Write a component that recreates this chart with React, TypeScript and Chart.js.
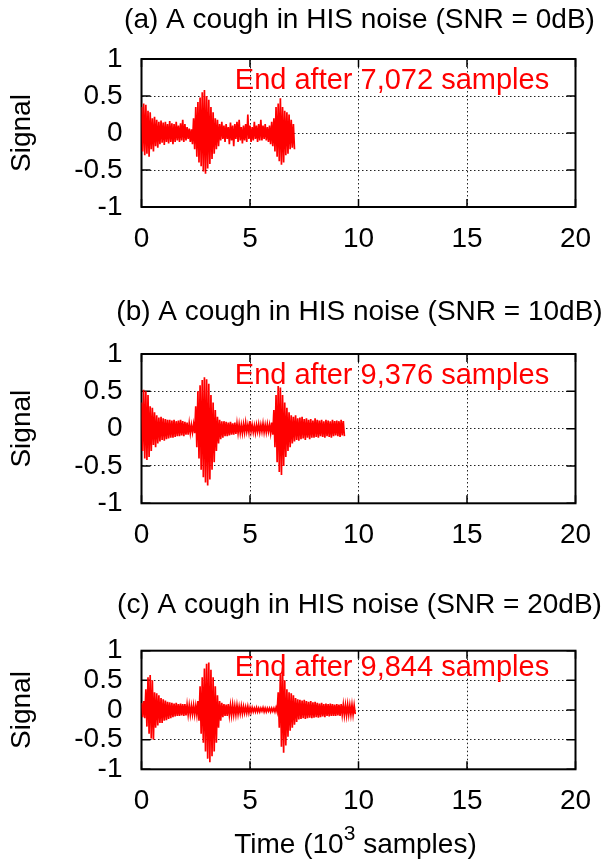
import React, { useEffect, useRef } from "react";
import { Chart, registerables } from "chart.js";

Chart.register(...registerables);

const FONT = '"Liberation Sans", Arial, Helvetica, sans-serif';

// ---------------- data ----------------
const panelTitles = [
  "(a) A cough in HIS noise (SNR = 0dB)",
  "(b) A cough in HIS noise (SNR = 10dB)",
  "(c) A cough in HIS noise (SNR = 20dB)",
];
const endSamples = [7072, 9376, 9844];
const xTickValues = [0, 5, 10, 15, 20];
const yTickValues = [-1, -0.5, 0, 0.5, 1];
const yAxisLabel = "Signal";
const xAxisLabelParts = ["Time (10", "3", " samples)"];
const envelopeStep = 0.1; // 10^3 samples between envelope readings

// (a) SNR = 0dB : upper / lower envelope read every 100 samples
const upperA = [
  0.35, 0.40, 0.38, 0.30, 0.28, 0.20, 0.22, 0.18, 0.15, 0.17,
  0.14, 0.15, 0.12, 0.16, 0.13, 0.12, 0.15, 0.10, 0.13, 0.18,
  0.12, 0.08, 0.06, 0.05, 0.20, 0.35, 0.42, 0.48, 0.55, 0.58,
  0.50, 0.45, 0.35, 0.28, 0.20, 0.18, 0.12, 0.15, 0.10, 0.12,
  0.08, 0.14, 0.10, 0.12, 0.15, 0.18, 0.08, 0.10, 0.12, 0.25,
  0.10, 0.08, 0.15, 0.10, 0.12, 0.18, 0.10, 0.12, 0.08, 0.10,
  0.15, 0.20, 0.35, 0.40, 0.47, 0.35, 0.30, 0.28, 0.25, 0.18,
  0.12,
];
const lowerA = [
  -0.25, -0.30, -0.28, -0.32, -0.22, -0.25, -0.18, -0.20, -0.15, -0.13,
  -0.16, -0.12, -0.14, -0.12, -0.15, -0.12, -0.10, -0.12, -0.10, -0.12,
  -0.10, -0.08, -0.12, -0.15, -0.22, -0.32, -0.40, -0.45, -0.52, -0.55,
  -0.48, -0.42, -0.35, -0.28, -0.22, -0.18, -0.10, -0.08, -0.12, -0.08,
  -0.15, -0.10, -0.18, -0.08, -0.12, -0.10, -0.14, -0.10, -0.12, -0.08,
  -0.12, -0.10, -0.08, -0.12, -0.10, -0.10, -0.08, -0.10, -0.12, -0.15,
  -0.18, -0.25, -0.32, -0.38, -0.43, -0.40, -0.30, -0.28, -0.22, -0.20,
  -0.22,
];

// (b) SNR = 10dB
const upperB = [
  0.35, 0.52, 0.50, 0.45, 0.30, 0.28, 0.22, 0.18, 0.15, 0.16,
  0.14, 0.13, 0.12, 0.12, 0.11, 0.12, 0.10, 0.11, 0.12, 0.10,
  0.09, 0.08, 0.07, 0.05, 0.06, 0.30, 0.50, 0.58, 0.65, 0.69,
  0.66, 0.60, 0.45, 0.35, 0.25, 0.16, 0.12, 0.10, 0.10, 0.09,
  0.08, 0.09, 0.07, 0.08, 0.07, 0.06, 0.05, 0.06, 0.08, 0.05,
  0.10, 0.05, 0.04, 0.05, 0.06, 0.05, 0.07, 0.05, 0.06, 0.05,
  0.08, 0.25, 0.45, 0.57, 0.55, 0.45, 0.35, 0.28, 0.22, 0.18,
  0.16, 0.18, 0.14, 0.15, 0.16, 0.13, 0.14, 0.12, 0.13, 0.11,
  0.14, 0.12, 0.11, 0.12, 0.10, 0.12, 0.11, 0.10, 0.12, 0.10,
  0.11, 0.10, 0.12, 0.10,
];
const lowerB = [
  -0.30, -0.40, -0.42, -0.38, -0.30, -0.22, -0.25, -0.20, -0.17, -0.15,
  -0.16, -0.14, -0.13, -0.12, -0.12, -0.11, -0.10, -0.10, -0.09, -0.10,
  -0.08, -0.08, -0.06, -0.05, -0.06, -0.25, -0.40, -0.55, -0.65, -0.72,
  -0.76, -0.68, -0.55, -0.45, -0.30, -0.20, -0.14, -0.12, -0.10, -0.10,
  -0.09, -0.08, -0.08, -0.07, -0.06, -0.06, -0.06, -0.05, -0.04, -0.05,
  -0.04, -0.05, -0.06, -0.04, -0.05, -0.04, -0.05, -0.05, -0.04, -0.06,
  -0.08, -0.25, -0.45, -0.58, -0.62, -0.50, -0.38, -0.30, -0.25, -0.20,
  -0.17, -0.15, -0.16, -0.14, -0.13, -0.15, -0.12, -0.14, -0.12, -0.12,
  -0.11, -0.12, -0.10, -0.11, -0.12, -0.10, -0.11, -0.12, -0.10, -0.09,
  -0.10, -0.11, -0.09, -0.10,
];

// (c) SNR = 20dB
const upperC = [
  0.12, 0.15, 0.35, 0.55, 0.59, 0.50, 0.30, 0.28, 0.25, 0.20,
  0.18, 0.16, 0.14, 0.13, 0.12, 0.11, 0.12, 0.10, 0.11, 0.10,
  0.10, 0.09, 0.08, 0.07, 0.08, 0.07, 0.15, 0.40, 0.55, 0.70,
  0.78, 0.80, 0.68, 0.55, 0.40, 0.25, 0.15, 0.12, 0.10, 0.09,
  0.10, 0.08, 0.09, 0.07, 0.08, 0.06, 0.07, 0.06, 0.05, 0.06,
  0.04, 0.04, 0.03, 0.04, 0.03, 0.03, 0.04, 0.03, 0.03, 0.03,
  0.03, 0.03, 0.04, 0.30, 0.60, 0.72, 0.50, 0.35, 0.30, 0.28,
  0.25, 0.20, 0.18, 0.17, 0.16, 0.17, 0.15, 0.14, 0.15, 0.13,
  0.14, 0.12, 0.11, 0.12, 0.10, 0.11, 0.10, 0.11, 0.10, 0.09,
  0.10, 0.09, 0.10, 0.09, 0.08, 0.09, 0.08, 0.09, 0.08,
];
const lowerC = [
  -0.12, -0.14, -0.28, -0.40, -0.48, -0.50, -0.30, -0.26, -0.22, -0.22,
  -0.18, -0.17, -0.15, -0.14, -0.12, -0.11, -0.10, -0.10, -0.09, -0.10,
  -0.09, -0.08, -0.08, -0.07, -0.08, -0.08, -0.18, -0.40, -0.55, -0.70,
  -0.82, -0.88, -0.78, -0.70, -0.55, -0.30, -0.18, -0.12, -0.10, -0.10,
  -0.09, -0.09, -0.08, -0.08, -0.07, -0.06, -0.06, -0.05, -0.05, -0.05,
  -0.04, -0.03, -0.03, -0.03, -0.03, -0.02, -0.03, -0.03, -0.02, -0.03,
  -0.02, -0.03, -0.03, -0.30, -0.62, -0.72, -0.60, -0.45, -0.35, -0.30,
  -0.25, -0.20, -0.16, -0.15, -0.14, -0.15, -0.14, -0.13, -0.14, -0.13,
  -0.12, -0.13, -0.12, -0.11, -0.12, -0.10, -0.11, -0.10, -0.10, -0.10,
  -0.09, -0.10, -0.08, -0.09, -0.09, -0.08, -0.08, -0.08, -0.07,
];

const uppers = [upperA, upperB, upperC];
const lowers = [lowerA, lowerB, lowerC];

// ---------------- layout (absolute page pixels) ----------------
const panelLayouts = [
  { top: 0, height: 263, titleY: 20, plotTop: 59, plotBottom: 207 },
  { top: 280, height: 275, titleY: 312, plotTop: 354, plotBottom: 503.3 },
  { top: 570, height: 297, titleY: 605, plotTop: 650.7, plotBottom: 769.3 },
];
const PLOT_LEFT = 141.5;
const PLOT_RIGHT = 575.5;
const WIDTH = 613;

function zigzag(upper: number[], lower: number[]) {
  const pts: { x: number; y: number }[] = [];
  upper.forEach((u, i) => {
    const t = i * envelopeStep;
    pts.push({ x: t, y: u });
    pts.push({ x: t + envelopeStep / 2, y: lower[i] });
  });
  return pts;
}

function Panel({ index }: { index: number }) {
  const ref = useRef<HTMLCanvasElement>(null);
  const lay = panelLayouts[index];

  useEffect(() => {
    const canvas = ref.current!;
    const isLast = index === panelLayouts.length - 1;

    const decor = {
      id: "decor" + index,
      beforeDatasetsDraw(chart: any) {
        const { ctx, chartArea } = chart;
        const { left, right, top, bottom } = chartArea;
        const xs = chart.scales.x;
        const ys = chart.scales.y;
        ctx.save();
        ctx.strokeStyle = "#000";
        ctx.lineWidth = 2;
        ctx.strokeRect(left, top, right - left, bottom - top);
        ctx.lineWidth = 1.5;
        ctx.beginPath();
        xs.ticks.forEach((t: any) => {
          const px = xs.getPixelForValue(t.value);
          ctx.moveTo(px, bottom);
          ctx.lineTo(px, bottom - 8);
          ctx.moveTo(px, top);
          ctx.lineTo(px, top + 8);
        });
        ys.ticks.forEach((t: any) => {
          const py = ys.getPixelForValue(t.value);
          ctx.moveTo(left, py);
          ctx.lineTo(left + 9, py);
          ctx.moveTo(right, py);
          ctx.lineTo(right - 9, py);
        });
        ctx.stroke();
        ctx.restore();
      },
      afterDatasetsDraw(chart: any) {
        const { ctx } = chart;
        const xs = chart.scales.x;
        const ys = chart.scales.y;
        ctx.save();
        ctx.fillStyle = "#ff0000";
        ctx.font = `29px ${FONT}`;
        ctx.textAlign = "left";
        ctx.textBaseline = "middle";
        ctx.fillText(
          `End after ${endSamples[index].toLocaleString("en-US")} samples`,
          xs.getPixelForValue(4.3),
          ys.getPixelForValue(0.7)
        );
        ctx.restore();
      },
      afterDraw(chart: any) {
        const { ctx, chartArea } = chart;
        const cx = (chartArea.left + chartArea.right) / 2;
        ctx.save();
        ctx.fillStyle = "#000";
        ctx.font = `28px ${FONT}`;
        ctx.textAlign = "center";
        ctx.textBaseline = "middle";
        ctx.fillText(panelTitles[index], cx + 1, lay.titleY - lay.top);
        if (isLast) {
          const [a, sup, b] = xAxisLabelParts;
          ctx.font = `28px ${FONT}`;
          const wa = ctx.measureText(a).width;
          const wb = ctx.measureText(b).width;
          ctx.font = `21px ${FONT}`;
          const ws = ctx.measureText(sup).width;
          const total = wa + ws + wb;
          const y0 = 845 - lay.top;
          let x0 = cx - total / 2 - 3;
          ctx.textAlign = "left";
          ctx.font = `28px ${FONT}`;
          ctx.fillText(a, x0, y0);
          x0 += wa;
          ctx.font = `21px ${FONT}`;
          ctx.fillText(sup, x0, y0 - 11);
          x0 += ws;
          ctx.font = `28px ${FONT}`;
          ctx.fillText(b, x0, y0);
        }
        ctx.restore();
      },
    };

    const tickFont = { family: FONT, size: 28 };
    const gridOpts = { drawTicks: false, color: "#222", lineWidth: 1 };
    const borderOpts = { display: false, dash: [1.5, 2.5] };

    const chart = new Chart(canvas, {
      type: "line",
      data: {
        datasets: [
          {
            data: zigzag(uppers[index], lowers[index]),
            borderColor: "#ff0000",
            borderWidth: 1.7,
            pointRadius: 0,
            fill: false,
            tension: 0,
          },
        ],
      },
      options: {
        responsive: false,
        animation: false,
        events: [],
        layout: {
          padding: {
            left: 0,
            right: WIDTH - PLOT_RIGHT,
            top: lay.plotTop - lay.top,
            bottom: 0,
          },
        },
        plugins: {
          legend: { display: false },
          tooltip: { enabled: false },
          title: { display: false },
        },
        scales: {
          x: {
            type: "linear",
            min: 0,
            max: 20,
            afterBuildTicks: (s: any) => {
              s.ticks = xTickValues.map((v) => ({ value: v }));
            },
            ticks: {
              font: tickFont,
              color: "#000",
              padding: 15,
              maxRotation: 0,
              autoSkip: false,
              callback: (v: any) => String(v),
            },
            grid: gridOpts,
            border: borderOpts,
            afterFit: (s: any) => {
              s.height = lay.top + lay.height - lay.plotBottom;
            },
          },
          y: {
            type: "linear",
            min: -1,
            max: 1,
            afterBuildTicks: (s: any) => {
              s.ticks = yTickValues.map((v) => ({ value: v }));
            },
            ticks: {
              font: tickFont,
              color: "#000",
              padding: 19,
              autoSkip: false,
              callback: (v: any) => String(v),
            },
            title: {
              display: true,
              text: yAxisLabel,
              font: tickFont,
              color: "#000",
              padding: { top: 5, bottom: 0 },
            },
            grid: gridOpts,
            border: borderOpts,
            afterFit: (s: any) => {
              s.width = PLOT_LEFT;
            },
          },
        },
      },
      plugins: [decor],
    } as any);
    return () => chart.destroy();
  }, [index]);

  return (
    <canvas
      ref={ref}
      width={WIDTH}
      height={lay.height}
      style={{
        position: "absolute",
        left: 0,
        top: lay.top,
        width: WIDTH,
        height: lay.height,
        display: "block",
      }}
    />
  );
}

export default function App() {
  return (
    <div
      style={{
        position: "absolute",
        left: 0,
        top: 0,
        width: WIDTH,
        height: 867,
        background: "#fff",
        overflow: "hidden",
      }}
    >
      {panelLayouts.map((_, i) => (
        <Panel key={i} index={i} />
      ))}
    </div>
  );
}
